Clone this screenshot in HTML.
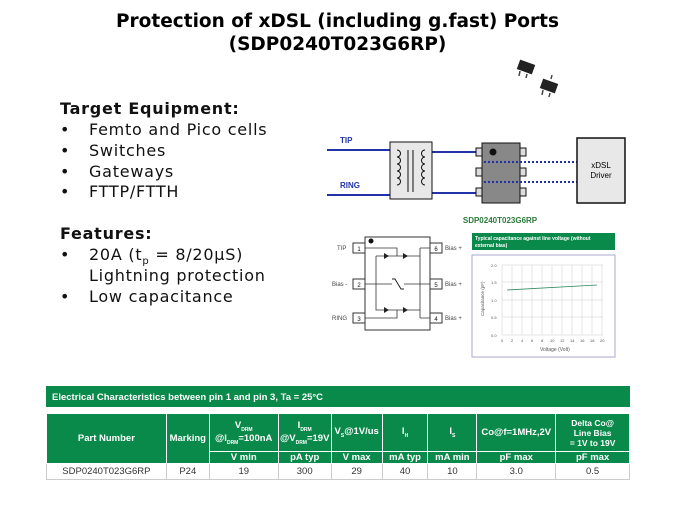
<!DOCTYPE html>
<html><head><meta charset="utf-8"><style>
body{margin:0;width:675px;height:506px;background:#fff;font-family:"Liberation Sans",sans-serif;position:relative;overflow:hidden}
.t{position:absolute;white-space:nowrap}
.title{left:0;width:675px;text-align:center;font-weight:bold;font-size:18.5px;color:#000;font-family:"DejaVu Sans",sans-serif}
.l{font-size:16px;color:#111;font-family:"DejaVu Sans",sans-serif;letter-spacing:0.75px}
table{position:absolute;left:46px;top:413px;border-collapse:collapse;font-size:9.5px;}
td{border:1px solid #ccc;text-align:center;padding:0}
th{background:#0a8a4a;color:#fff;font-weight:bold;border:1px solid #fff;padding:0;font-size:9.5px}
</style></head><body>
<div class="t title" style="top:11px">Protection of xDSL (including g.fast) Ports</div>
<div class="t title" style="top:34px">(SDP0240T023G6RP)</div>

<div class="t l" style="left:60px;top:99px;font-weight:bold">Target Equipment:</div>
<div class="t l" style="left:60px;top:120px">•</div><div class="t l" style="left:89px;top:120px">Femto and Pico cells</div>
<div class="t l" style="left:60px;top:141px">•</div><div class="t l" style="left:89px;top:141px">Switches</div>
<div class="t l" style="left:60px;top:162px">•</div><div class="t l" style="left:89px;top:162px">Gateways</div>
<div class="t l" style="left:60px;top:182px">•</div><div class="t l" style="left:89px;top:182px">FTTP/FTTH</div>
<div class="t l" style="left:60px;top:224px;font-weight:bold">Features:</div>
<div class="t l" style="left:60px;top:245px">•</div><div class="t l" style="left:89px;top:245px">20A (t<sub style="font-size:10px">p</sub> = 8/20µS)</div>
<div class="t l" style="left:89px;top:266px">Lightning protection</div>
<div class="t l" style="left:60px;top:287px">•</div><div class="t l" style="left:89px;top:287px">Low capacitance</div>

<svg width="675" height="506" style="position:absolute;left:0;top:0">
<g fill="#222"><rect x="518" y="62" width="16" height="10" transform="rotate(20 526 67)"/><rect x="541" y="81" width="16" height="10" transform="rotate(20 549 86)"/></g>
<g stroke="#444" stroke-width="1.5"><line x1="520" y1="71" x2="519" y2="76"/><line x1="527" y1="74" x2="526" y2="78"/><line x1="543" y1="90" x2="542" y2="95"/><line x1="550" y1="93" x2="549" y2="97"/><line x1="551" y1="79" x2="552" y2="75"/></g>
<text x="340" y="143" font-size="8" font-weight="bold" fill="#2233aa">TIP</text>
<text x="340" y="188" font-size="8" font-weight="bold" fill="#2233aa">RING</text>
<g stroke="#2233aa" stroke-width="2" fill="none">
<line x1="327" y1="150" x2="390" y2="150"/><line x1="327" y1="195" x2="390" y2="195"/>
<line x1="432" y1="152" x2="476" y2="152"/><line x1="432" y1="193" x2="476" y2="193"/>
</g>
<rect x="390" y="142" width="42" height="57" fill="#e8e8e8" stroke="#111"/>
<g stroke="#111" fill="none" stroke-width="1"><path d="M397 150a3.5 3.5 0 0 1 0 7a3.5 3.5 0 0 1 0 7a3.5 3.5 0 0 1 0 7a3.5 3.5 0 0 1 0 7a3.5 3.5 0 0 1 0 7"/><path d="M425 150a3.5 3.5 0 0 0 0 7a3.5 3.5 0 0 0 0 7a3.5 3.5 0 0 0 0 7a3.5 3.5 0 0 0 0 7a3.5 3.5 0 0 0 0 7"/><line x1="408" y1="150" x2="408" y2="192"/><line x1="413" y1="150" x2="413" y2="192"/></g>
<g fill="#ddd" stroke="#111"><rect x="476" y="148" width="8" height="8"/><rect x="476" y="168" width="8" height="8"/><rect x="476" y="188" width="8" height="8"/><rect x="518" y="148" width="8" height="8"/><rect x="518" y="168" width="8" height="8"/><rect x="518" y="188" width="8" height="8"/></g>
<rect x="482" y="143" width="38" height="60" fill="#888" stroke="#111"/>
<circle cx="493" cy="152" r="3.5" fill="#111"/>
<g stroke="#2233aa" stroke-width="2" stroke-dasharray="2,2"><line x1="484" y1="162" x2="577" y2="162"/><line x1="484" y1="182" x2="577" y2="182"/></g>
<rect x="577" y="138" width="48" height="65" fill="#e8e8e8" stroke="#111" stroke-width="1.5"/>
<text x="601" y="168" font-size="8" text-anchor="middle">xDSL</text><text x="601" y="178" font-size="8" text-anchor="middle">Driver</text>
<text x="500" y="223" font-size="8" font-weight="bold" fill="#2a7a3a" text-anchor="middle">SDP0240T023G6RP</text>
<rect x="365" y="237" width="65" height="93" fill="#fff" stroke="#333"/>
<circle cx="371" cy="241" r="2.5" fill="#111"/>
<g fill="#fff" stroke="#333"><rect x="353" y="243" width="12" height="10"/><rect x="353" y="279" width="12" height="10"/><rect x="353" y="313" width="12" height="10"/><rect x="430" y="243" width="12" height="10"/><rect x="430" y="279" width="12" height="10"/><rect x="430" y="313" width="12" height="10"/></g>
<g font-size="6" text-anchor="middle" fill="#111"><text x="359" y="251">1</text><text x="359" y="287">2</text><text x="359" y="321">3</text><text x="436" y="251">6</text><text x="436" y="287">5</text><text x="436" y="321">4</text></g>
<g font-size="6" fill="#444"><text x="337" y="250">TIP</text><text x="332" y="286">Bias -</text><text x="332" y="320">RING</text><text x="445" y="250">Bias +</text><text x="445" y="286">Bias +</text><text x="445" y="320">Bias +</text></g>
<g stroke="#333" fill="none" stroke-width="0.8"><path d="M365 248H397V256"/><path d="M376 256H420M376 256V310H420M365 284H420M420 248V318M430 248H420M430 284H420M430 318H420M365 318H397V310"/></g>
<g fill="#222"><path d="M384 253l5 3l-5 3z"/><path d="M403 253l5 3l-5 3z"/><path d="M384 307l5 3l-5 3z"/><path d="M403 307l5 3l-5 3z"/></g>
<rect x="392" y="280" width="12" height="8" fill="#fff"/><path d="M392 279l3 0l6 10l3 0" stroke="#222" fill="none"/>
<rect x="472" y="233" width="143" height="17" fill="#0a8a4a"/>
<text x="475" y="240" font-size="5" fill="#fff" font-weight="bold">Typical capacitance against line voltage (without</text>
<text x="475" y="247" font-size="5" fill="#fff" font-weight="bold">external bias)</text>
<rect x="472" y="255" width="143" height="102" fill="#fff" stroke="#aac"/>
<g stroke="#ccc" stroke-width="0.5">
<line x1="502" y1="265" x2="603" y2="265"/><line x1="502" y1="282" x2="603" y2="282"/><line x1="502" y1="300" x2="603" y2="300"/><line x1="502" y1="317" x2="603" y2="317"/><line x1="502" y1="335" x2="603" y2="335"/>
<line x1="502" y1="265" x2="502" y2="335"/><line x1="512" y1="265" x2="512" y2="335"/><line x1="522" y1="265" x2="522" y2="335"/><line x1="532" y1="265" x2="532" y2="335"/><line x1="542" y1="265" x2="542" y2="335"/><line x1="552" y1="265" x2="552" y2="335"/><line x1="562" y1="265" x2="562" y2="335"/><line x1="572" y1="265" x2="572" y2="335"/><line x1="582" y1="265" x2="582" y2="335"/><line x1="592" y1="265" x2="592" y2="335"/><line x1="602" y1="265" x2="602" y2="335"/>
</g>
<line x1="507" y1="290" x2="597" y2="285" stroke="#2a8a5a" stroke-width="0.8"/>
<g font-size="4" fill="#555"><text x="491" y="267">2.0</text><text x="491" y="284">1.5</text><text x="491" y="302">1.0</text><text x="491" y="319">0.5</text><text x="491" y="337">0.0</text>
<text x="501" y="342">0</text><text x="511" y="342">2</text><text x="521" y="342">4</text><text x="531" y="342">6</text><text x="541" y="342">8</text><text x="550" y="342">10</text><text x="560" y="342">12</text><text x="570" y="342">14</text><text x="580" y="342">16</text><text x="590" y="342">18</text><text x="600" y="342">20</text>
<text x="540" y="351" font-size="5">Voltage (Volt)</text>
<text x="484" y="316" font-size="4.5" transform="rotate(-90 484 316)">Capacitance (pF)</text></g>
<rect x="46" y="386" width="584" height="21" fill="#0a8a4a"/>
<text x="52" y="400" font-size="9.5" font-weight="bold" fill="#fff">Electrical Characteristics between pin 1 and pin 3, Ta = 25°C</text>
</svg>

<table style="width:584px">
<colgroup><col style="width:120px"><col style="width:43px"><col style="width:69px"><col style="width:53px"><col style="width:51px"><col style="width:46px"><col style="width:49px"><col style="width:79px"><col style="width:74px"></colgroup>
<tr style="height:38px"><th rowspan="2">Part Number</th><th rowspan="2">Marking</th><th>V<sub style="font-size:5px">DRM</sub><br>@I<sub style="font-size:5px">DRM</sub>=100nA</th><th>I<sub style="font-size:5px">DRM</sub><br>@V<sub style="font-size:5px">DRM</sub>=19V</th><th>V<sub style="font-size:5px">S</sub>@1V/us</th><th>I<sub style="font-size:5px">H</sub></th><th>I<sub style="font-size:5px">S</sub></th><th>Co@f=1MHz,2V</th><th style="font-size:8.5px">Delta Co@<br>Line Bias<br>= 1V to 19V</th></tr>
<tr style="height:12px"><th>V min</th><th>pA typ</th><th>V max</th><th>mA typ</th><th>mA min</th><th>pF max</th><th>pF max</th></tr>
<tr style="height:16px;color:#333"><td>SDP0240T023G6RP</td><td>P24</td><td>19</td><td>300</td><td>29</td><td>40</td><td>10</td><td>3.0</td><td>0.5</td></tr>
</table>
</body></html>
